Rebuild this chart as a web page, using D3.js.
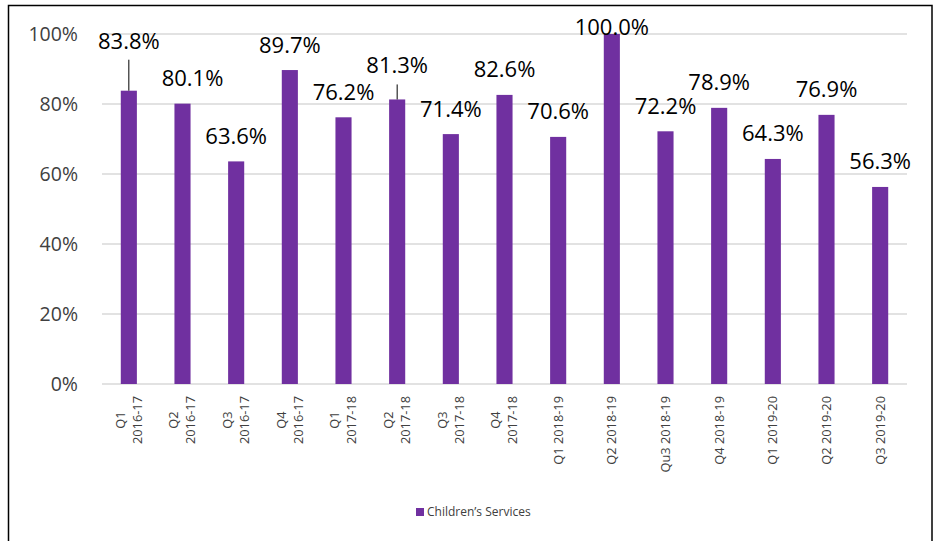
<!DOCTYPE html>
<html>
<head>
<meta charset="utf-8">
<script src="https://cdn.jsdelivr.net/npm/d3@7"></script>
<style>
  html, body { margin: 0; padding: 0; background: #fff; }
  svg { display: block; font-family: "Open Sans", sans-serif; }
</style>
</head>
<body>
<svg id="chart" width="935" height="541"></svg>
<script>
// Quarterly performance, Children's Services
const quarters = [
  "Q1\n2016-17", "Q2\n2016-17", "Q3\n2016-17", "Q4\n2016-17",
  "Q1\n2017-18", "Q2\n2017-18", "Q3\n2017-18", "Q4\n2017-18",
  "Q1 2018-19", "Q2 2018-19", "Qu3 2018-19", "Q4 2018-19",
  "Q1 2019-20", "Q2 2019-20", "Q3 2019-20"
];
const childrensServices = [
  0.838, 0.801, 0.636, 0.897, 0.762, 0.813, 0.714, 0.826,
  0.706, 1.000, 0.722, 0.789, 0.643, 0.769, 0.563
];
const yTicks = [0, 0.2, 0.4, 0.6, 0.8, 1.0];
const seriesName = "Children’s Services";

// Label placement tweaks (index -> baseline offset from bar top, horizontal shift, leader line)
const labelTweaks = {
  0: { dy: -42, leader: true },
  1: { dx: 10 },
  5: { dy: -26, leader: true },
  9: { dy: 1 }
};

const svg = d3.select("#chart");
const purple = "#7030A0";

const x = d3.scaleBand()
  .domain(quarters)
  .range([102, 907])
  .paddingInner(0.7)
  .paddingOuter(0.35);

const y = d3.scaleLinear().domain([0, 1]).range([384, 34]);

// Outer frame
svg.append("rect")
  .attr("x", 8.5).attr("y", 5.5)
  .attr("width", 923.5).attr("height", 545)
  .attr("fill", "none").attr("stroke", "#000").attr("stroke-width", 1.5);

// Gridlines
svg.append("g").selectAll("line").data(yTicks).join("line")
  .attr("x1", 102).attr("x2", 907)
  .attr("y1", d => y(d)).attr("y2", d => y(d))
  .attr("stroke", "#d9d9d9").attr("stroke-width", 1.5);

// Y axis labels
svg.append("g").selectAll("text").data(yTicks).join("text")
  .attr("x", 78).attr("y", d => y(d))
  .attr("dy", "0.36em")
  .attr("text-anchor", "end")
  .attr("font-size", 19.5)
  .attr("fill", "#404040")
  .text(d => d3.format(".0%")(d));

// Bars
svg.append("g").selectAll("rect").data(childrensServices).join("rect")
  .attr("x", (d, i) => x(quarters[i]))
  .attr("y", d => y(d))
  .attr("width", x.bandwidth())
  .attr("height", d => y(0) - y(d))
  .attr("fill", purple);

// Data labels
const labels = svg.append("g");
childrensServices.forEach((v, i) => {
  const t = labelTweaks[i] || {};
  const cx = x(quarters[i]) + x.bandwidth() / 2;
  const base = y(v) + (t.dy !== undefined ? t.dy : -17.5);
  labels.append("text")
    .attr("x", cx + (t.dx || 0))
    .attr("y", base)
    .attr("text-anchor", "middle")
    .attr("font-size", 22)
    .attr("fill", "#000")
    .text(d3.format(".1%")(v));
  if (t.leader) {
    labels.append("line")
      .attr("x1", cx).attr("x2", cx)
      .attr("y1", base + 11).attr("y2", y(v))
      .attr("stroke", "#000").attr("stroke-width", 1);
  }
});

// Category labels, rotated
const xl = svg.append("g");
quarters.forEach(q => {
  const cx = x(q) + x.bandwidth() / 2;
  const lines = q.split("\n");
  const g = xl.append("g")
    .attr("transform", `translate(${cx},396) rotate(-90)`);
  const fs = 12.8;
  const texts = lines.map((s, k) => g.append("text")
    .attr("font-size", fs)
    .attr("fill", "#404040")
    .attr("y", (k - (lines.length - 1) / 2) * 17)
    .attr("dy", "0.35em")
    .text(s));
  const w = d3.max(texts, t => t.node().getComputedTextLength());
  texts.forEach(t => t.attr("x", -w / 2).attr("text-anchor", "middle"));
});

// Legend
const leg = svg.append("g");
leg.append("rect")
  .attr("x", 416).attr("y", 508)
  .attr("width", 8).attr("height", 8)
  .attr("fill", purple);
leg.append("text")
  .attr("x", 427).attr("y", 512)
  .attr("dy", "0.35em")
  .attr("font-size", 12)
  .attr("fill", "#404040")
  .text(seriesName);
</script>
</body>
</html>
